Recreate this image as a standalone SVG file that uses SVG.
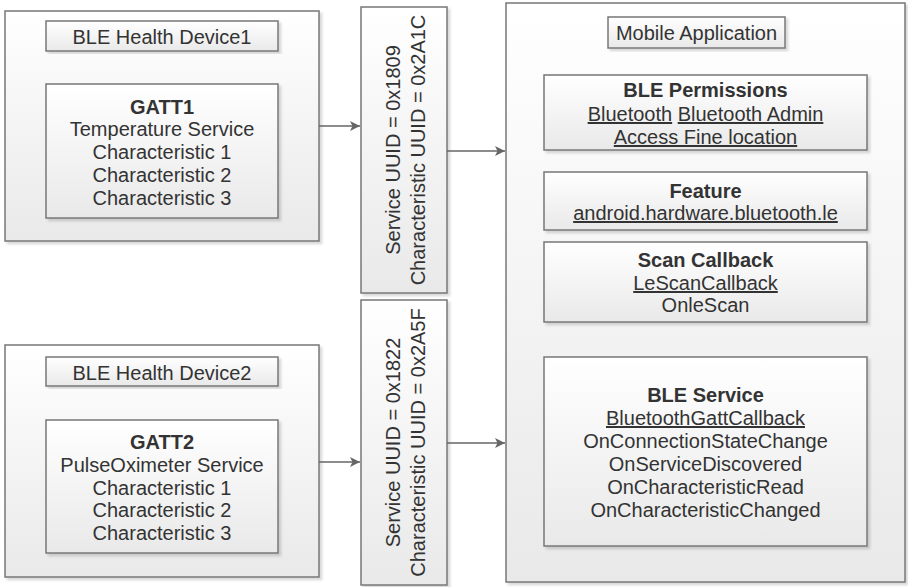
<svg xmlns="http://www.w3.org/2000/svg" width="908" height="587" viewBox="0 0 908 587">
<defs>
  <linearGradient id="g" x1="0" y1="0" x2="0" y2="1">
    <stop offset="0" stop-color="#ffffff"/>
    <stop offset="1" stop-color="#e9e9e9"/>
  </linearGradient>
  <filter id="sh" x="-5%" y="-5%" width="115%" height="115%">
    <feDropShadow dx="2.5" dy="2.5" stdDeviation="0.8" flood-color="#000" flood-opacity="0.15"/>
  </filter>
  <marker id="arr" markerWidth="12" markerHeight="12" refX="10" refY="5" orient="auto" markerUnits="userSpaceOnUse">
    <path d="M0,0 L10,5 L0,10 L2.5,5 z" fill="#666"/>
  </marker>
  <style>
    rect.box { fill: url(#g); stroke: #777; stroke-width: 1.5; filter: url(#sh); }
    text { font-family: "Liberation Sans", Arial, sans-serif; font-size: 20px; fill: #333; text-anchor: middle; }
    .b { font-weight: bold; }
    .u { text-decoration: underline; }
    .conn line { stroke: #666; stroke-width: 1.5; marker-end: url(#arr); }
  </style>
</defs>
<rect width="908" height="587" fill="#ffffff"/>

<g id="device1">
  <rect class="box" x="5" y="11" width="314" height="230"/>
  <rect class="box" x="46" y="21" width="232" height="30"/>
  <text x="162" y="44">BLE Health Device1</text>
  <rect class="box" x="46" y="84" width="232" height="134"/>
  <text x="162" y="114" class="b">GATT1</text>
  <text x="162" y="136">Temperature Service</text>
  <text x="162" y="159">Characteristic 1</text>
  <text x="162" y="182">Characteristic 2</text>
  <text x="162" y="205">Characteristic 3</text>
</g>

<g id="device2">
  <rect class="box" x="5" y="345" width="314" height="232"/>
  <rect class="box" x="46" y="357" width="232" height="29"/>
  <text x="162" y="380">BLE Health Device2</text>
  <rect class="box" x="46" y="420" width="232" height="133"/>
  <text x="162" y="449" class="b">GATT2</text>
  <text x="162" y="472">PulseOximeter Service</text>
  <text x="162" y="495">Characteristic 1</text>
  <text x="162" y="517">Characteristic 2</text>
  <text x="162" y="540">Characteristic 3</text>
</g>

<g id="uuid1">
  <rect class="box" x="361" y="7" width="86" height="286"/>
  <g transform="translate(400,150) rotate(-90)">
    <text x="0" y="0">Service UUID = 0x1809</text>
    <text x="0" y="25">Characteristic UUID = 0x2A1C</text>
  </g>
</g>

<g id="uuid2">
  <rect class="box" x="361" y="300" width="86" height="285"/>
  <g transform="translate(400,442.5) rotate(-90)">
    <text x="0" y="0">Service UUID = 0x1822</text>
    <text x="0" y="25">Characteristic UUID = 0x2A5F</text>
  </g>
</g>

<g id="mobile">
  <rect class="box" x="506" y="3" width="399" height="579"/>
  <rect class="box" x="608" y="17" width="177" height="31"/>
  <text x="696.5" y="40">Mobile Application</text>

  <g id="permissions">
    <rect class="box" x="544" y="75" width="323" height="75"/>
    <text x="705.5" y="97" class="b">BLE Permissions</text>
    <text x="705.5" y="121"><tspan class="u">Bluetooth</tspan> <tspan class="u">Bluetooth Admin</tspan></text>
    <text x="705.5" y="144" class="u">Access Fine location</text>
  </g>

  <g id="feature">
    <rect class="box" x="544" y="172" width="323" height="58"/>
    <text x="705.5" y="198" class="b">Feature</text>
    <text x="705.5" y="220" class="u">android.hardware.bluetooth.le</text>
  </g>

  <g id="scan">
    <rect class="box" x="544" y="242" width="323" height="80"/>
    <text x="705.5" y="267" class="b">Scan Callback</text>
    <text x="705.5" y="290" class="u">LeScanCallback</text>
    <text x="705.5" y="312">OnleScan</text>
  </g>

  <g id="service">
    <rect class="box" x="544" y="357" width="323" height="189"/>
    <text x="705.5" y="402" class="b">BLE Service</text>
    <text x="705.5" y="425" class="u">BluetoothGattCallback</text>
    <text x="705.5" y="448">OnConnectionStateChange</text>
    <text x="705.5" y="471">OnServiceDiscovered</text>
    <text x="705.5" y="494">OnCharacteristicRead</text>
    <text x="705.5" y="517">OnCharacteristicChanged</text>
  </g>
</g>

<g id="connectors" class="conn">
  <line x1="319" y1="126" x2="360" y2="126"/>
  <line x1="447" y1="151" x2="505" y2="151"/>
  <line x1="319" y1="462" x2="360" y2="462"/>
  <line x1="447" y1="443" x2="505" y2="443"/>
</g>
</svg>
